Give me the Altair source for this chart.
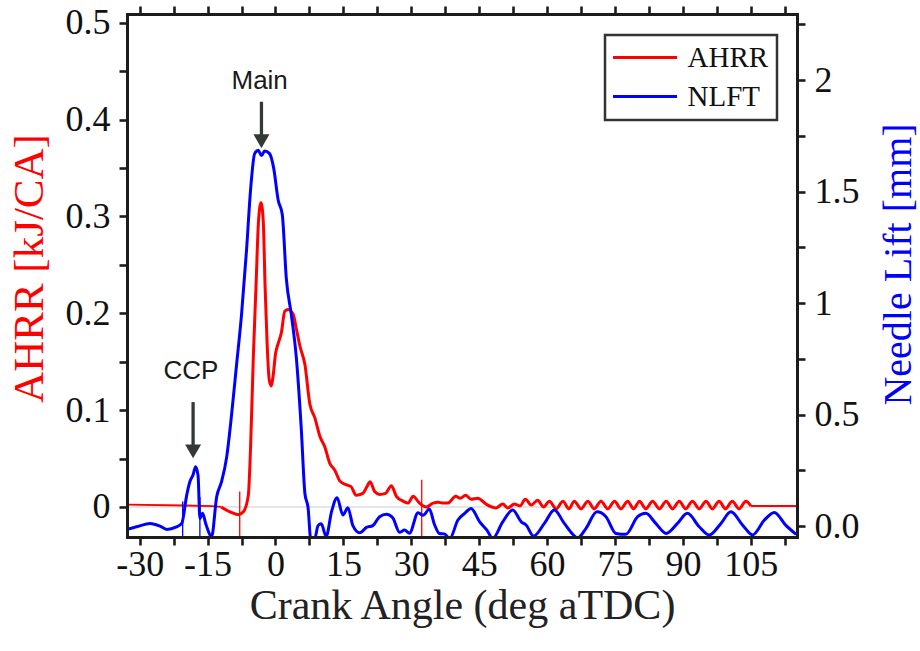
import altair as alt
import pandas as pd

# ---------------- data ----------------
nlft_ca = [-32.8, -30.5, -27.7, -25.5, -24.0, -22.0, -20.7, -19.6, -18.9, -18.2, -17.65, -17.1,
           -16.7, -16.1, -15.4, -14.1, -13.0, -11.9, -10.8, -9.7, -8.6, -7.5, -6.4, -5.5, -4.6,
           -3.8, -3.1, -2.4, -1.3, -0.4, 0.6, 1.5, 2.4, 3.5, 4.6, 5.7, 6.5, 7.2, 7.8, 8.7, 9.4,
           10.1, 11.2, 12.4, 13.6, 14.9, 16.0, 17.1, 18.6, 20.1, 21.5, 23.0, 24.5, 25.9, 27.4,
           28.5, 29.6, 31.5, 32.6, 34.0, 35.1, 36.2, 37.3, 38.5, 40.3, 41.8, 43.2, 45.1, 46.7,
           48.0, 50.2, 52.4, 54.3, 55.4, 57.0, 59.4, 61.6, 63.8, 66.8, 68.6, 71.0, 73.0, 75.2,
           77.4, 80.0, 81.8, 84.0, 86.3, 88.8, 91.0, 93.6, 95.8, 98.4, 100.6, 103.2, 105.4,
           108.0, 110.2, 112.7, 115.0]
nlft_mm = [-0.015, -0.002, 0.012, 0.0, -0.015, -0.005, 0.012, 0.14, 0.20, 0.23, 0.266, 0.226,
           0.034, 0.058, 0.01, -0.046, 0.13, 0.20, 0.307, 0.499, 0.723, 0.948, 1.236, 1.509, 1.67,
           1.685, 1.661, 1.682, 1.67, 1.605, 1.461, 1.397, 1.108, 0.948, 0.756, 0.435, 0.146, 0.082,
           -0.06, -0.054, 0.002, 0.01, -0.046, 0.066, 0.127, 0.05, 0.082, 0.002, -0.03, -0.006,
           0.002, 0.042, 0.053, 0.037, -0.028, -0.018, -0.032, 0.06, 0.048, 0.076, 0.008, -0.033,
           -0.035, -0.055, 0.027, 0.057, 0.079, 0.019, -0.018, -0.055, 0.019, 0.072, 0.019, 0.004,
           -0.045, 0.012, 0.072, 0.012, -0.052, -0.01, 0.064, 0.042, -0.033, -0.037, 0.042, 0.057,
           0.012, -0.033, 0.012, 0.057, -0.003, -0.04, 0.012, 0.064, 0.004, -0.04, 0.027, 0.061,
           0.004, -0.037]

ahrr_ca = [-12.0, -10.1, -8.2, -7.1, -6.0, -5.5, -4.9, -4.3, -3.75, -3.2, -2.7, -2.3, -1.85, -1.4,
           -0.97, -0.5, 0.0, 0.6, 1.3, 2.05, 2.8, 3.9, 4.6, 5.4, 6.5, 7.6, 8.7, 9.8, 10.9, 12.0,
           13.1, 14.2, 15.6, 16.7, 17.8, 19.3, 20.2, 20.9, 21.9, 23.0, 24.3, 25.6, 26.7, 28.2,
           29.3, 30.4, 31.8, 33.3, 34.8, 35.9, 37.0, 38.1, 39.8, 40.8, 42.0, 43.2, 44.7, 46.5,
           48.7, 50.2, 51.3, 52.8, 54.0, 55.2, 56.5, 57.9, 59.2, 60.5, 62.0, 63.5, 64.8, 66.0,
           67.5, 69.0, 70.4, 71.9, 73.4, 74.9, 76.3, 77.8, 79.1, 80.4, 81.8, 83.3, 84.8, 86.3,
           87.7, 89.2, 90.6, 92.1, 93.6, 95.1, 96.5, 98.0, 99.4, 100.9, 102.4, 103.9, 105.0]
ahrr_kj = [0.0, -0.005, -0.008, -0.005, 0.012, 0.062, 0.154, 0.228, 0.295, 0.314, 0.295, 0.228,
           0.169, 0.132, 0.125, 0.136, 0.158, 0.169, 0.180, 0.202, 0.204, 0.199, 0.184, 0.166,
           0.147, 0.106, 0.092, 0.073, 0.062, 0.045, 0.038, 0.027, 0.023, 0.021, 0.012, 0.014,
           0.021, 0.026, 0.016, 0.013, 0.014, 0.022, 0.011, 0.006, 0.004, 0.011, 0.004, 0.000,
           0.004, 0.005, 0.004, 0.004, 0.011, 0.009, 0.012, 0.008, 0.009, 0.003, -0.001, 0.003,
           -0.001, 0.003, 0.001, 0.008, 0.002, 0.007, 0.0, 0.006, -0.002, 0.006, -0.002, 0.006,
           -0.002, 0.006, -0.002, 0.006, -0.002, 0.006, -0.002, 0.006, -0.002, 0.006, -0.002,
           0.006, -0.002, 0.006, -0.002, 0.006, -0.002, 0.006, -0.002, 0.006, -0.002, 0.006,
           -0.002, 0.006, -0.002, 0.006, 0.001]

thin_ca = [-32.8, -20.0, -14.0, -12.0, 105.0, 115.2]
thin_kj = [0.0024, 0.0015, 0.0008, 0.0, 0.001, 0.001]
thin_seg = ["left", "left", "left", "left", "right", "right"]

red_mark_ca = [-7.9, 32.3]
red_mark_top = [0.016, 0.028]
blue_mark_ca = [-20.5, -16.7]
blue_mark_top = [0.11, 0.13]

ann_text = ["Main", "CCP"]
ann_x = [-3.5, -18.7]
ann_y = [0.4397, 0.1405]
arrow_x = [-3.1, -18.2]
arrow_top = [0.4184, 0.1083]
arrow_bot = [0.3822, 0.062]
arrow_head = [0.3776, 0.0574]

x_ticks = [-30, -22.5, -15, -7.5, 0, 7.5, 15, 22.5, 30, 37.5, 45, 52.5, 60, 67.5, 75, 82.5,
           90, 97.5, 105, 112.5]
yl_ticks = [0, 0.05, 0.1, 0.15, 0.2, 0.25, 0.3, 0.35, 0.4, 0.45, 0.5]
yr_ticks = [0, 0.25, 0.5, 0.75, 1.0, 1.25, 1.5, 1.75, 2.0, 2.25]

series_names = ["AHRR", "NLFT"]
series_colors = ["#ff0000", "#0000ff"]

# ---------------- tables ----------------
df_n = pd.DataFrame({"ca": nlft_ca, "val": nlft_mm, "series": "NLFT"})
df_a = pd.DataFrame({"ca": ahrr_ca, "val": ahrr_kj, "series": "AHRR"})
df_thin = pd.DataFrame({"ca": thin_ca, "val": thin_kj, "seg": thin_seg})
df_rm = pd.DataFrame({"ca": red_mark_ca, "top": red_mark_top, "bot": -0.031})
df_bm = pd.DataFrame({"ca": blue_mark_ca, "top": blue_mark_top, "bot": -0.049})
df_ann = pd.DataFrame({"txt": ann_text, "x": ann_x, "y": ann_y})
df_arr = pd.DataFrame({"x": arrow_x, "top": arrow_top, "bot": arrow_bot, "head": arrow_head})
df_zero = pd.DataFrame({"val": [0.0]})

# ---------------- scales / axes ----------------
SERIF = "Liberation Serif"
INK = "#1c1c1c"
x_scale = alt.Scale(domain=[-32.8, 115.2], nice=False, zero=False)
yl_scale = alt.Scale(domain=[-0.031, 0.509], nice=False, zero=False)
yr_scale = alt.Scale(domain=[-0.049, 2.296], nice=False, zero=False)
color_scale = alt.Scale(domain=series_names, range=series_colors)

common_axis = dict(grid=False, domainColor=INK, domainWidth=3, domainCap="square",
                   tickColor=INK, tickWidth=2.6, tickSize=8, labelFont=SERIF,
                   labelFontSize=36, labelColor="#111111", titleFont=SERIF,
                   titleFontWeight="normal", zindex=1)

x_bottom = alt.Axis(orient="bottom", values=x_ticks,
                    labelExpr="datum.value % 15 == 0 ? '' + datum.value : ''",
                    labelPadding=2, title="Crank Angle (deg aTDC)", titleFontSize=42,
                    titleColor="#222222", titleY=81, titleBaseline="alphabetic",
                    labelOverlap=False, **common_axis)
x_top = alt.Axis(orient="top", values=x_ticks, labels=False, title=None, **common_axis)
y_left = alt.Axis(orient="left", values=yl_ticks,
                  labelExpr="round(datum.value*100) % 10 == 0 ? format(datum.value, '.1~f') : ''",
                  labelPadding=9, title="AHRR [kJ/CA]", titleColor="#ff0000", titleFontSize=43,
                  titleAngle=270, titleX=-85, titleY=254, titleAlign="center",
                  titleBaseline="alphabetic", labelOverlap=False, **common_axis)
y_right = alt.Axis(orient="right", values=yr_ticks,
                   labelExpr="datum.value == 0 ? '0.0' : (round(datum.value*100) % 50 == 0 ? format(datum.value, '~g') : '')",
                   labelPadding=9, title="Needle Lift [mm]", titleColor="#0000ff", titleFontSize=40,
                   titleAngle=270, titleX=113, titleY=250, titleAlign="center",
                   titleBaseline="alphabetic", labelOverlap=False, **common_axis)

# legend: a long horizontal stroke drawn as a custom symbol path
legend = alt.Legend(orient="none", legendX=478, legendY=21, title=None,
                    symbolType="M-16,0H16", symbolSize=16, symbolStrokeWidth=3,
                    symbolOffset=17.5, labelOffset=28, labelFont=SERIF, labelFontSize=29,
                    labelColor="#111111", strokeColor="#333333", fillColor="white",
                    padding=8, rowPadding=9)

X = lambda f: alt.X(f, type="quantitative", scale=x_scale, axis=x_bottom)
XT = lambda f: alt.X(f, type="quantitative", scale=x_scale, axis=x_top)
YL = lambda f: alt.Y(f, type="quantitative", scale=yl_scale, axis=y_left)
YR = lambda f: alt.Y(f, type="quantitative", scale=yr_scale, axis=y_right)

# ---------------- left (AHRR) layers ----------------
zero_rule = alt.Chart(df_zero).mark_rule(color="#cccccc", strokeWidth=1).encode(y=YL("val"))

thin_red = alt.Chart(df_thin).mark_line(color="#ff0000", strokeWidth=1.8, clip=True).encode(
    x=X("ca"), y=YL("val"), detail="seg:N")

red_line = alt.Chart(df_a).mark_line(strokeWidth=3, clip=True, interpolate="monotone").encode(
    x=X("ca"), y=YL("val"),
    color=alt.Color("series:N", scale=color_scale, legend=legend))

red_marks = alt.Chart(df_rm).mark_rule(color="#ff0000", strokeWidth=1.3, clip=True).encode(
    x=X("ca"), y=YL("top"), y2="bot")

arrow_shaft = alt.Chart(df_arr).mark_rule(color="#333a36", strokeWidth=3.3).encode(
    x=X("x"), y=YL("top"), y2="bot")
arrow_tip = alt.Chart(df_arr).mark_point(shape="triangle-down", size=256, filled=True,
                                         color="#333a36", opacity=1).encode(
    x=X("x"), y=YL("head"))
ann = alt.Chart(df_ann).mark_text(font="Liberation Sans", fontSize=26, color="#1a1a1a",
                                  baseline="middle", align="center").encode(
    x=X("x"), y=YL("y"), text="txt:N")

left = alt.layer(zero_rule, thin_red, red_line, red_marks, arrow_shaft, arrow_tip, ann)

# ---------------- right (NLFT) layers ----------------
blue_line = alt.Chart(df_n).mark_line(strokeWidth=3, clip=True, interpolate="monotone").encode(
    x=XT("ca"), y=YR("val"),
    color=alt.Color("series:N", scale=color_scale, legend=legend))
blue_marks = alt.Chart(df_bm).mark_rule(color="#0000ff", strokeWidth=1.3, clip=True).encode(
    x=XT("ca"), y=YR("top"), y2="bot")

right = alt.layer(blue_marks, blue_line)

chart = alt.layer(left, right).resolve_scale(y="independent", x="shared", color="shared") \
    .resolve_axis(x="independent", y="independent").properties(
    width=670, height=523,
    autosize=alt.AutoSizeParams(type="none"),
    padding={"left": 127, "top": 14, "right": 123, "bottom": 114},
    background="white",
).configure_view(stroke=None).configure_legend(strokeWidth=2.5)

chart.save("out.html", embed_options={"renderer": "svg", "actions": False})
